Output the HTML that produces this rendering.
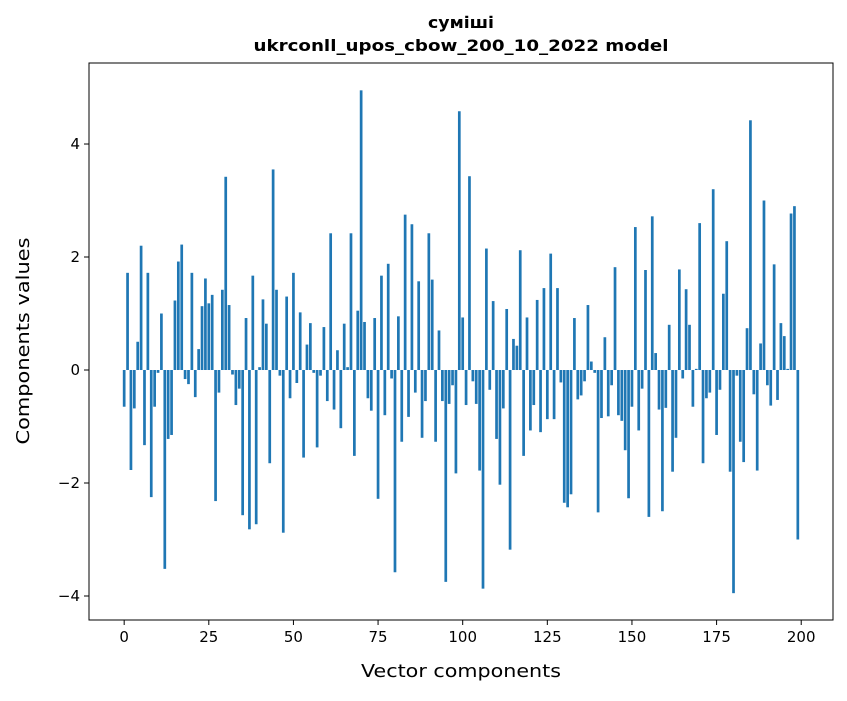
<!DOCTYPE html>
<html><head><meta charset="utf-8"><style>
body{margin:0;background:#fff;}
svg text{font-family:"DejaVu Sans","Liberation Sans",sans-serif;fill:#000;}
</style></head><body>
<svg id="chart" width="847" height="696" xmlns="http://www.w3.org/2000/svg">
<rect width="847" height="696" fill="#fff"/>
<text x="461" y="28" text-anchor="middle" font-size="16" font-weight="bold" textLength="66" lengthAdjust="spacingAndGlyphs">суміші</text>
<text x="461" y="51" text-anchor="middle" font-size="16" font-weight="bold" textLength="415" lengthAdjust="spacingAndGlyphs">ukrconll_upos_cbow_200_10_2022 model</text>
<g id="bars"></g>
<g id="axes"></g>
<text x="461" y="677" text-anchor="middle" font-size="18" textLength="200" lengthAdjust="spacingAndGlyphs">Vector components</text>
<text x="29" y="341" text-anchor="middle" font-size="18" textLength="207" lengthAdjust="spacingAndGlyphs" transform="rotate(-90 29 341)">Components values</text>
</svg>
<script>
const values=[-0.65,1.72,-1.77,-0.68,0.5,2.2,-1.33,1.72,-2.25,-0.65,-0.05,1.0,-3.52,-1.22,-1.15,1.23,1.92,2.22,-0.16,-0.25,
1.72,-0.48,0.37,1.13,1.62,1.18,1.33,-2.32,-0.4,1.42,3.42,1.15,-0.08,-0.62,-0.33,-2.57,0.92,-2.82,1.67,-2.73,
0.05,1.25,0.82,-1.65,3.55,1.42,-0.1,-2.88,1.3,-0.5,1.72,-0.23,1.02,-1.55,0.45,0.83,-0.05,-1.37,-0.1,0.76,
-0.55,2.42,-0.7,0.35,-1.03,0.82,0.05,2.42,-1.52,1.05,4.95,0.85,-0.5,-0.72,0.92,-2.28,1.67,-0.8,1.88,-0.15,
-3.58,0.95,-1.27,2.75,-0.83,2.58,-0.4,1.57,-1.2,-0.55,2.42,1.6,-1.27,0.7,-0.55,-3.75,-0.6,-0.27,-1.83,4.58,
0.93,-0.62,3.43,-0.2,-0.6,-1.78,-3.87,2.15,-0.35,1.22,-1.22,-2.03,-0.68,1.08,-3.18,0.55,0.43,2.12,-1.52,0.93,
-1.07,-0.62,1.24,-1.1,1.45,-0.87,2.06,-0.87,1.45,-0.22,-2.35,-2.43,-2.2,0.92,-0.52,-0.45,-0.2,1.15,0.15,-0.05,
-2.52,-0.85,0.58,-0.82,-0.27,1.82,-0.8,-0.9,-1.42,-2.27,-0.65,2.53,-1.07,-0.33,1.77,-2.6,2.72,0.3,-0.7,-2.5,
-0.67,0.8,-1.8,-1.2,1.78,-0.15,1.43,0.8,-0.65,0.02,2.6,-1.65,-0.5,-0.4,3.2,-1.15,-0.35,1.35,2.28,-1.8,
-3.95,-0.1,-1.27,-1.63,0.74,4.42,-0.43,-1.78,0.47,3.0,-0.27,-0.63,1.87,-0.53,0.83,0.6,0.02,2.77,2.9,-3.0];
const xTicks=[0,25,50,75,100,125,150,175,200];
const yTicks=[-4,-2,0,2,4];
const yTickLabels=["\u22124","\u22122","0","2","4"];
const L=89,R=833,T=63,B=620;
const xMin=-10.39,xMax=209.39,yMin=-4.425,yMax=5.434;
const xs=v=>L+(v-xMin)/(xMax-xMin)*(R-L);
const ys=v=>B-(v-yMin)/(yMax-yMin)*(B-T);
const NS="http://www.w3.org/2000/svg";
const bars=document.getElementById('bars');
values.forEach((v,i)=>{
  const r=document.createElementNS(NS,'rect');
  const x0=xs(i-0.4),x1=xs(i+0.4);
  const y0=ys(Math.max(v,0)),y1=ys(Math.min(v,0));
  r.setAttribute('x',x0);r.setAttribute('width',x1-x0);
  r.setAttribute('y',y0);r.setAttribute('height',Math.max(y1-y0,0.3));
  r.setAttribute('fill','#1f77b4');
  
  
  bars.appendChild(r);
});
const ax=document.getElementById('axes');
const frame=document.createElementNS(NS,'rect');
frame.setAttribute('x',L);frame.setAttribute('y',T);frame.setAttribute('width',R-L);frame.setAttribute('height',B-T);
frame.setAttribute('fill','none');frame.setAttribute('stroke','#000');frame.setAttribute('stroke-width','1');


ax.appendChild(frame);
xTicks.forEach(t=>{
  const x=xs(t);
  const l=document.createElementNS(NS,'line');
  l.setAttribute('x1',x);l.setAttribute('x2',x);l.setAttribute('y1',B);l.setAttribute('y2',B+5);l.setAttribute('stroke','#000');
  
  
  ax.appendChild(l);
  const tx=document.createElementNS(NS,'text');
  tx.setAttribute('x',x);tx.setAttribute('y',B+22);tx.setAttribute('text-anchor','middle');tx.setAttribute('font-size','15');
  tx.textContent=t;
  
  
  ax.appendChild(tx);
});
yTicks.forEach((t,i)=>{
  const y=ys(t);
  const l=document.createElementNS(NS,'line');
  l.setAttribute('x1',L-5);l.setAttribute('x2',L);l.setAttribute('y1',y);l.setAttribute('y2',y);l.setAttribute('stroke','#000');
  
  
  ax.appendChild(l);
  const tx=document.createElementNS(NS,'text');
  tx.setAttribute('x',L-9);tx.setAttribute('y',y+5);tx.setAttribute('text-anchor','end');tx.setAttribute('font-size','15');
  tx.textContent=yTickLabels[i];
  
  
  ax.appendChild(tx);
});
</script>
</body></html>
